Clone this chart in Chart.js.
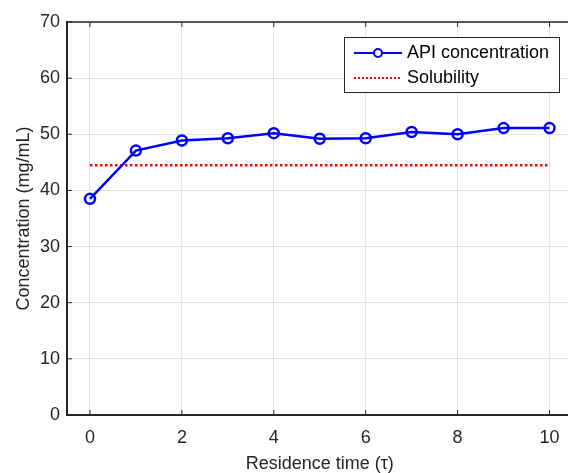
<!DOCTYPE html>
<html>
<head>
<meta charset="utf-8">
<script src="https://cdn.jsdelivr.net/npm/chart.js@4"></script>
<style>
  html, body { margin: 0; padding: 0; background: #fff; overflow: hidden; }
  #wrap { width: 580px; height: 473px; }
</style>
</head>
<body>
<div id="wrap"><canvas id="chart" width="580" height="473"></canvas></div>
<script>
// data
const residenceTime = [0, 1, 2, 3, 4, 5, 6, 7, 8, 9, 10];
const apiConc = [38.5, 47.1, 48.9, 49.3, 50.2, 49.2, 49.3, 50.4, 50.0, 51.1, 51.1];
const solubilityX = [0, 10];
const solubilityY = [44.5, 44.5];
const xTicks = [0, 2, 4, 6, 8, 10];
const yTicks = [0, 10, 20, 30, 40, 50, 60, 70];

const axisColor = '#262626';
const font = { family: '"Liberation Sans", Arial, sans-serif', size: 18 };

// MATLAB-ish box: top border + inward tick marks
const boxPlugin = {
  id: 'box',
  afterDraw(chart) {
    const { ctx, chartArea: a, scales } = chart;
    ctx.save();
    ctx.strokeStyle = axisColor;
    ctx.lineWidth = 1.5;
    ctx.beginPath();
    ctx.moveTo(a.left, a.top);
    ctx.lineTo(a.right, a.top);
    ctx.stroke();
    ctx.lineWidth = 1;
    ctx.beginPath();
    scales.x.ticks.forEach(t => {
      const px = scales.x.getPixelForValue(t.value);
      ctx.moveTo(px, a.bottom); ctx.lineTo(px, a.bottom - 5);
      ctx.moveTo(px, a.top); ctx.lineTo(px, a.top + 5);
    });
    scales.y.ticks.forEach(t => {
      const py = scales.y.getPixelForValue(t.value);
      ctx.moveTo(a.left, py); ctx.lineTo(a.left + 5, py);
    });
    ctx.stroke();
    ctx.restore();
  }
};

// legend drawn by hand to sit inside the axes like the original
const legendPlugin = {
  id: 'boxLegend',
  afterDraw(chart) {
    const { ctx } = chart;
    const x0 = 344, y0 = 37, w = 215, h = 55;
    ctx.save();
    ctx.fillStyle = '#fff';
    ctx.fillRect(x0, y0, w, h);
    ctx.strokeStyle = axisColor;
    ctx.lineWidth = 1;
    ctx.strokeRect(x0 + 0.5, y0 + 0.5, w, h);

    const rows = [y0 + 16, y0 + 41];
    // API concentration
    ctx.strokeStyle = '#0000ff';
    ctx.lineWidth = 2;
    ctx.beginPath();
    ctx.moveTo(x0 + 10, rows[0]); ctx.lineTo(x0 + 58, rows[0]);
    ctx.stroke();
    ctx.fillStyle = '#fff';
    ctx.beginPath();
    ctx.arc(x0 + 34, rows[0], 4, 0, Math.PI * 2);
    ctx.fill(); ctx.stroke();
    // Solubility
    ctx.strokeStyle = '#ff0000';
    ctx.setLineDash([2, 2]);
    ctx.beginPath();
    ctx.moveTo(x0 + 10, rows[1]); ctx.lineTo(x0 + 58, rows[1]);
    ctx.stroke();
    ctx.setLineDash([]);

    ctx.fillStyle = '#000';
    ctx.font = '18px ' + font.family;
    ctx.textBaseline = 'middle';
    ctx.fillText('API concentration', x0 + 63, rows[0]);
    ctx.fillText('Solubility', x0 + 63, rows[1]);
    ctx.restore();
  }
};

new Chart(document.getElementById('chart'), {
  type: 'line',
  data: {
    datasets: [
      {
        label: 'API concentration',
        data: residenceTime.map((t, i) => ({ x: t, y: apiConc[i] })),
        borderColor: '#0000ff',
        borderWidth: 2.5,
        pointRadius: 5,
        pointBorderWidth: 2.5,
        pointBackgroundColor: 'rgba(255,255,255,0)',
        pointBorderColor: '#0000ff',
        tension: 0
      },
      {
        label: 'Solubility',
        data: solubilityX.map((t, i) => ({ x: t, y: solubilityY[i] })),
        borderColor: '#ff0000',
        borderWidth: 2.5,
        borderDash: [2.5, 2.5],
        pointRadius: 0
      }
    ]
  },
  options: {
    responsive: false,
    animation: false,
    layout: { padding: { left: 0, top: 22, right: 6, bottom: 0 } },
    plugins: { legend: { display: false }, tooltip: { enabled: false } },
    scales: {
      x: {
        type: 'linear',
        min: -0.5,
        max: 10.5,
        afterBuildTicks: s => { s.ticks = xTicks.map(v => ({ value: v })); },
        afterFit: s => { s.height = 58; },
        grid: { color: '#e3e3e3', drawTicks: false },
        border: { color: axisColor, width: 2 },
        ticks: { color: axisColor, font, padding: 12, maxRotation: 0 },
        title: { display: true, text: 'Residence time (τ)', color: axisColor, font, padding: { top: 0, bottom: -2 } }
      },
      y: {
        min: 0,
        max: 70,
        afterBuildTicks: s => { s.ticks = yTicks.map(v => ({ value: v })); },
        afterFit: s => { s.width = 67; },
        grid: { color: '#e3e3e3', drawTicks: false },
        border: { color: axisColor, width: 2 },
        ticks: { color: axisColor, font, padding: 7 },
        title: { display: true, text: 'Concentration (mg/mL)', color: axisColor, font, padding: { top: 13, bottom: 0 } }
      }
    }
  },
  plugins: [boxPlugin, legendPlugin]
});
</script>
</body>
</html>
